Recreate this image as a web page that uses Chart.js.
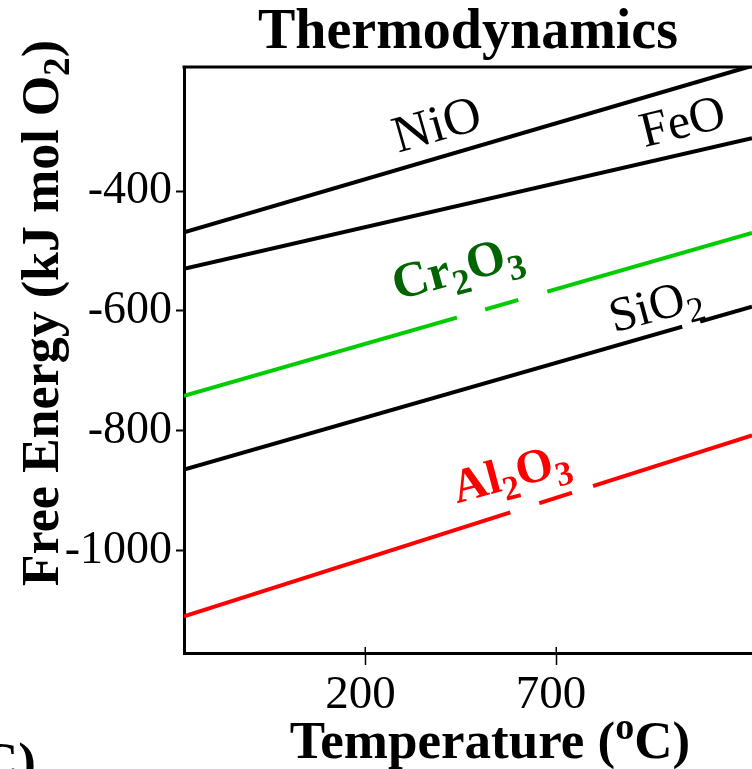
<!DOCTYPE html>
<html>
<head>
<meta charset="utf-8">
<script src="https://cdn.jsdelivr.net/npm/chart.js@4.4.1/dist/chart.umd.min.js"></script>
<style>
  html, body { margin: 0; padding: 0; background: #fff; }
</style>
</head>
<body>
<canvas id="thermo" width="752" height="769"></canvas>
<script>
// temperature endpoints (oC) and free energy of each oxide line (kJ/mol O2)
const temperatures = [-276, 1214];
const niO = [-469, -191];
const feO = [-530, -312];
const cr2O3 = [-742, -470];
const siO2 = [-865, -593];
const al2O3 = [-1110, -808];

const xTicks = [200, 700];
const yTicks = [-400, -600, -800, -1000];
const yRange = [-1171, -193];

const serif = '"Liberation Serif", "Times New Roman", serif';

const series = [
  { name: 'NiO', values: niO, color: '#000000' },
  { name: 'FeO', values: feO, color: '#000000' },
  { name: 'Cr2O3', values: cr2O3, color: '#00cc00' },
  { name: 'SiO2', values: siO2, color: '#000000' },
  { name: 'Al2O3', values: al2O3, color: '#ff0000' }
];

// labels sitting on the lines: baseline start given in data units
const lineLabels = [
  { text: 'NiO', t: 286, e: -336, angle: 16, size: 52, bold: false, color: '#000000' },
  { text: 'FeO', t: 932, e: -327, angle: 14, size: 50, bold: false, color: '#000000' },
  { text: 'Cr_2O_3', t: 283, e: -582, angle: 15, size: 50, bold: true, color: '#006400' },
  { text: 'SiO_2', t: 852, e: -636, angle: 15, size: 49, bold: false, color: '#000000' },
  { text: 'Al_2O_3', t: 440, e: -921, angle: 15, size: 48, bold: true, color: '#ff0000' }
];

// where the lines are broken under the labels (oC)
const lineGaps = [
  { line: 2, from: 440, to: 514 },
  { line: 2, from: 601, to: 677 },
  { line: 3, from: 1031, to: 1078 },
  { line: 4, from: 580, to: 656 },
  { line: 4, from: 742, to: 797 }
];

// text with _x for subscript and ^x for superscript
function drawRich(ctx, markup, size, bold, measureOnly) {
  let cx = 0;
  const runs = [];
  for (let i = 0; i < markup.length; i++) {
    let ch = markup[i];
    let kind = 'n';
    if (ch === '_' || ch === '^') {
      kind = ch;
      ch = markup[++i];
    }
    const last = runs[runs.length - 1];
    if (last && last.kind === kind) last.txt += ch;
    else runs.push({ kind: kind, txt: ch });
  }
  runs.forEach(r => {
    const fs = r.kind === 'n' ? size : size * 0.72;
    const dy = r.kind === '_' ? size * 0.22 : (r.kind === '^' ? -size * 0.36 : 0);
    ctx.font = (bold ? 'bold ' : '') + fs + 'px ' + serif;
    if (!measureOnly) ctx.fillText(r.txt, cx, dy);
    cx += ctx.measureText(r.txt).width;
  });
  return cx;
}

const decorations = {
  id: 'decorations',
  afterDatasetsDraw(chart) {
    const { ctx, chartArea: a, scales: { x, y } } = chart;
    ctx.save();

    // white breaks in the lines
    ctx.strokeStyle = '#ffffff';
    ctx.lineWidth = 9;
    ctx.lineCap = 'butt';
    lineGaps.forEach(g => {
      const vals = series[g.line].values;
      const x0 = x.getPixelForValue(temperatures[0]), y0 = y.getPixelForValue(vals[0]);
      const x1 = x.getPixelForValue(temperatures[1]), y1 = y.getPixelForValue(vals[1]);
      const pa = x.getPixelForValue(g.from), pb = x.getPixelForValue(g.to);
      const ya = y0 + (y1 - y0) * (pa - x0) / (x1 - x0);
      const yb = y0 + (y1 - y0) * (pb - x0) / (x1 - x0);
      ctx.beginPath();
      ctx.moveTo(pa, ya);
      ctx.lineTo(pb, yb);
      ctx.stroke();
    });

    // line labels
    ctx.textAlign = 'left';
    ctx.textBaseline = 'alphabetic';
    lineLabels.forEach(l => {
      ctx.save();
      ctx.translate(x.getPixelForValue(l.t), y.getPixelForValue(l.e));
      ctx.rotate(-l.angle * Math.PI / 180);
      ctx.fillStyle = l.color;
      drawRich(ctx, l.text, l.size, l.bold);
      ctx.restore();
    });

    // top frame line
    ctx.strokeStyle = '#000000';
    ctx.lineWidth = 3;
    ctx.beginPath();
    ctx.moveTo(a.left - 1.5, a.top);
    ctx.lineTo(a.right, a.top);
    ctx.stroke();

    // inner part of the x ticks
    ctx.lineWidth = 1.5;
    xTicks.forEach(v => {
      const px = Math.round(x.getPixelForValue(v)) + 0.25;
      ctx.beginPath();
      ctx.moveTo(px, a.bottom);
      ctx.lineTo(px, a.bottom - 6);
      ctx.stroke();
    });

    ctx.fillStyle = '#000000';

    // title
    ctx.save();
    ctx.font = 'bold 56px ' + serif;
    ctx.textAlign = 'center';
    ctx.fillText('Thermodynamics', (a.left + a.right) / 2, 48);
    ctx.restore();

    // x axis title
    let w = drawRich(ctx, 'Temperature (^oC)', 53, true, true);
    ctx.save();
    ctx.translate(490 - w / 2, 758);
    drawRich(ctx, 'Temperature (^oC)', 53, true);
    ctx.restore();

    // cut-off title of the neighbouring panel
    ctx.save();
    ctx.translate(36 - w, 779);
    drawRich(ctx, 'Temperature (^oC)', 53, true);
    ctx.restore();

    // y axis title
    w = drawRich(ctx, 'Free Energy (kJ mol O_2)', 52, true, true);
    ctx.save();
    ctx.translate(58, 313 + w / 2);
    ctx.rotate(-Math.PI / 2);
    drawRich(ctx, 'Free Energy (kJ mol O_2)', 52, true);
    ctx.restore();

    ctx.restore();
  }
};

new Chart(document.getElementById('thermo'), {
  type: 'line',
  data: {
    datasets: series.map(s => ({
      label: s.name,
      data: temperatures.map((t, i) => ({ x: t, y: s.values[i] })),
      borderColor: s.color,
      borderWidth: 4,
      pointRadius: 0,
      tension: 0,
      fill: false
    }))
  },
  options: {
    responsive: false,
    animation: false,
    devicePixelRatio: 1,
    layout: { padding: { top: 67, right: 0, bottom: 0, left: 0 } },
    plugins: {
      legend: { display: false },
      tooltip: { enabled: false }
    },
    scales: {
      x: {
        type: 'linear',
        min: temperatures[0],
        max: temperatures[1],
        afterBuildTicks: s => { s.ticks = xTicks.map(v => ({ value: v })); },
        afterFit: s => { s.height = 116; },
        grid: { drawOnChartArea: false, drawTicks: true, tickLength: 12, tickWidth: 1.5, tickColor: '#000' },
        border: { display: true, color: '#000', width: 3 },
        ticks: {
          color: '#000',
          padding: 2,
          maxRotation: 0,
          autoSkip: false,
          labelOffset: -5,
          font: { family: serif, size: 47 },
          callback: v => String(v)
        }
      },
      y: {
        type: 'linear',
        min: yRange[0],
        max: yRange[1],
        afterBuildTicks: s => { s.ticks = yTicks.map(v => ({ value: v })); },
        afterFit: s => { s.width = 184; },
        grid: { drawOnChartArea: false, drawTicks: true, tickLength: 8, tickWidth: 2, tickColor: '#000' },
        border: { display: true, color: '#000', width: 3 },
        ticks: {
          color: '#000',
          padding: 4,
          autoSkip: false,
          font: { family: serif, size: 46 },
          callback: v => String(v)
        }
      }
    }
  },
  plugins: [decorations]
});
</script>
</body>
</html>
